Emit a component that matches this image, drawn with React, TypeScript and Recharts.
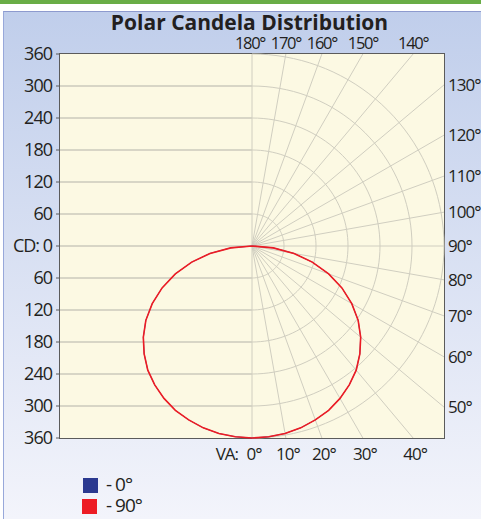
import { ScatterChart, Scatter, XAxis, YAxis } from 'recharts'

// candela ticks (negative = below the luminaire)
const cdTicks = [-360, -300, -240, -180, -120, -60, 0, 60, 120, 180, 240, 300, 360]
const ringValues = [60, 120, 180, 240, 300, 360]
const spokeAngles = [0, 10, 20, 30, 40, 50, 60, 70, 80, 90, 100, 110, 120, 130, 140, 150, 160, 170, 180]

// vertical angles and candela
const vaAngles = [0, 5, 10, 15, 20, 25, 30, 35, 40, 45, 50, 55, 60, 65, 70, 75, 80, 85, 90]
const cd0 = [360, 359, 357, 353, 347, 340, 330, 318, 304, 286, 266, 243, 216, 186, 153, 117, 80, 40, 0]
const cd90 = [360, 359, 357, 353, 347, 340, 330, 318, 304, 286, 266, 243, 216, 186, 153, 117, 80, 40, 0]

const MAX = 360
const INK = '#231f20'
const FONT = '"Open Sans", sans-serif'

const rad = (deg: number) => (deg * Math.PI) / 180
const polar = (r: number, deg: number) => ({ x: r * Math.sin(rad(deg)), y: -r * Math.cos(rad(deg)) })

// where a spoke meets the square plot frame
const edge = (deg: number) => {
  const s = Math.sin(rad(deg))
  const c = Math.cos(rad(deg))
  const m = Math.max(Math.abs(s), Math.abs(c))
  const side = s > Math.abs(c) + 1e-9 ? 'right' : c < 0 ? 'top' : 'bottom'
  return { x: (MAX * s) / m, y: (-MAX * c) / m, va: deg, side }
}

const arcSteps = Array.from({ length: 73 }, (_, i) => i * 2.5)
const ring = (r: number) => arcSteps.map((a) => polar(r, a))

// plane drawn on both sides of nadir
const curve = (vals: number[]) => [
  ...vaAngles
    .map((a, i) => ({ a, r: vals[i] }))
    .reverse()
    .map(({ a, r }) => ({ x: -r * Math.sin(rad(a)), y: -r * Math.cos(rad(a)) })),
  ...vaAngles.slice(1).map((a, i) => polar(vals[i + 1], a)),
]

const NoDot = () => <g />

const tickStyle = { fill: INK, fontSize: 18, letterSpacing: -1, fontFamily: FONT }
const labelStyle = { fill: INK, fontSize: 17, letterSpacing: -1, fontFamily: FONT }

function AngleLabel(props: any) {
  const { cx, cy } = props
  const p = props.payload ?? props
  const text = `${p.va}°`
  if (p.side === 'right') {
    return (
      <text x={cx + 4} y={cy} dy="0.36em" textAnchor="start" {...labelStyle}>
        {text}
      </text>
    )
  }
  if (p.side === 'top') {
    return (
      <text
        x={p.va === 180 ? cx - 2 : cx}
        y={cy - 5}
        textAnchor="middle"
        {...labelStyle}
        fontSize={16.5}
        letterSpacing={-1.3}
      >
        {text}
      </text>
    )
  }
  return (
    <g>
      <text x={cx + 2} y={cy + 22} textAnchor="middle" {...labelStyle}>
        {text}
      </text>
      {p.va === 0 && (
        <text x={cx - 14} y={cy + 22} textAnchor="end" {...labelStyle}>
          VA:
        </text>
      )}
    </g>
  )
}

const gridLine = { stroke: '#d0cec0', strokeWidth: 1 }

export default function App() {
  return (
    <div
      style={{
        position: 'absolute',
        left: 0,
        top: 0,
        width: 481,
        height: 519,
        overflow: 'hidden',
        background: '#fff',
        fontFamily: FONT,
        color: INK,
      }}
    >
      <div style={{ position: 'absolute', left: 0, top: 0, width: 481, height: 4, background: '#69ad46' }} />
      <div
        style={{
          position: 'absolute',
          left: 3,
          top: 11,
          right: 0,
          bottom: 0,
          borderTop: '1px solid #8d9ace',
          borderLeft: '1px solid #98a8da',
          background: 'linear-gradient(#c0ceeb, #f3f4fb)',
        }}
      />
      <div
        style={{
          position: 'absolute',
          left: 9,
          top: 8,
          width: 481,
          textAlign: 'center',
          fontWeight: 700,
          fontSize: 21,
          whiteSpace: 'nowrap',
        }}
      >
        Polar Candela Distribution
      </div>
      <div
        style={{
          position: 'absolute',
          left: 59,
          top: 53,
          width: 386,
          height: 386,
          boxSizing: 'border-box',
          border: '1px solid #5b5b5b',
          background: '#fcf9e3',
        }}
      />

      <ScatterChart
        width={481}
        height={519}
        margin={{ top: 54, right: 37, bottom: 81, left: 0 }}
        style={{ position: 'absolute', left: 0, top: 0 }}
      >
        <XAxis type="number" dataKey="x" domain={[-MAX, MAX]} hide />
        <YAxis
          type="number"
          dataKey="y"
          domain={[-MAX, MAX]}
          ticks={cdTicks}
          interval={0}
          width={60}
          axisLine={false}
          tickSize={4}
          tickMargin={4}
          tickLine={{ stroke: '#5b5b5b' }}
          tick={tickStyle}
          tickFormatter={(v: number) => (v === 0 ? 'CD: 0' : String(Math.abs(v)))}
        />

        {cdTicks
          .filter((v) => Math.abs(v) < MAX)
          .map((v) => (
            <Scatter
              key={`h${v}`}
              data={[{ x: -MAX, y: v }, { x: 0, y: v }]}
              line={{ stroke: '#b3b2a9', strokeWidth: 1 }}
              shape={NoDot}
              isAnimationActive={false}
            />
          ))}
        {spokeAngles.map((a) => (
          <Scatter
            key={`s${a}`}
            data={[{ x: 0, y: 0 }, edge(a)]}
            line={gridLine}
            shape={NoDot}
            isAnimationActive={false}
          />
        ))}
        {ringValues.map((r) => (
          <Scatter key={`r${r}`} data={ring(r)} line={gridLine} shape={NoDot} isAnimationActive={false} />
        ))}

        <Scatter
          name="0°"
          data={curve(cd0)}
          line={{ stroke: '#2b3990', strokeWidth: 0.8 }}
          shape={NoDot}
          isAnimationActive={false}
        />
        <Scatter
          name="90°"
          data={curve(cd90)}
          line={{ stroke: '#ed1c24', strokeWidth: 1.6 }}
          shape={NoDot}
          isAnimationActive={false}
        />

        <Scatter data={spokeAngles.map(edge)} shape={AngleLabel} isAnimationActive={false} />
      </ScatterChart>

      <div style={{ position: 'absolute', left: 83, top: 478, width: 15, height: 15, background: '#2b3990' }} />
      <div style={{ position: 'absolute', left: 82, top: 499, width: 15, height: 15, background: '#ed1c24' }} />
      <div style={{ position: 'absolute', left: 106, top: 471, fontSize: 19, letterSpacing: -1, whiteSpace: 'nowrap' }}>
        - 0°
      </div>
      <div style={{ position: 'absolute', left: 106, top: 492, fontSize: 19, letterSpacing: -1, whiteSpace: 'nowrap' }}>
        - 90°
      </div>
    </div>
  )
}
